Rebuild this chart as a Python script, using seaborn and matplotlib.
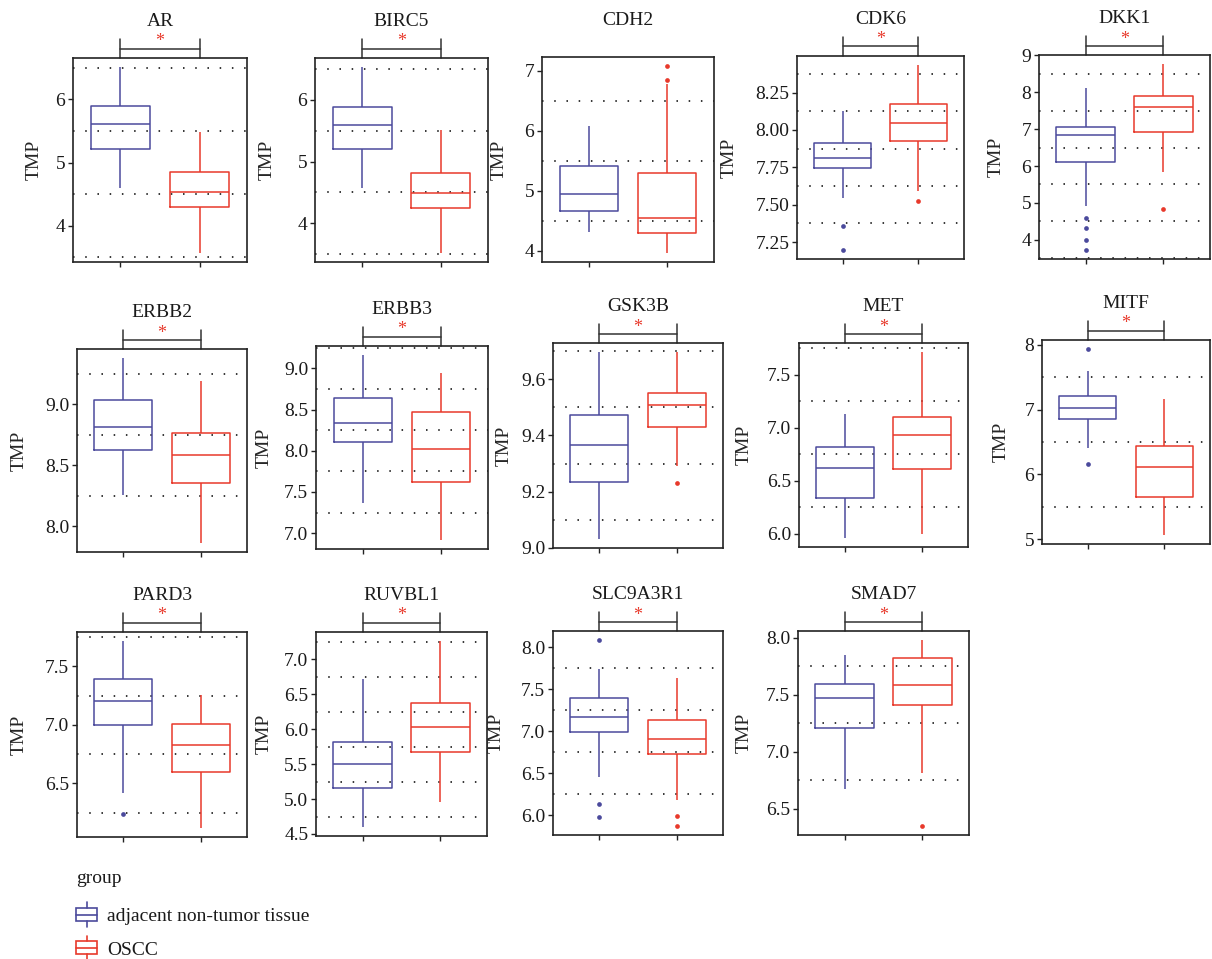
import numpy as np
import pandas as pd
import matplotlib
matplotlib.use('Agg')
import matplotlib.pyplot as plt
from matplotlib.legend_handler import HandlerBase
from matplotlib.patches import Patch, Rectangle
from matplotlib.lines import Line2D
from matplotlib.ticker import AutoMinorLocator
import seaborn as sns

# Gene panels and groups
genes = ['AR', 'BIRC5', 'CDH2', 'CDK6', 'DKK1',
         'ERBB2', 'ERBB3', 'GSK3B', 'MET', 'MITF',
         'PARD3', 'RUVBL1', 'SLC9A3R1', 'SMAD7']
groups = ['adjacent non-tumor tissue', 'OSCC']
significant = [True, True, False, True, True,
               True, True, True, True, True,
               True, True, True, True]

# box statistics (lower whisker, Q1, median, Q3, upper whisker, outliers)
adj_low = [4.60, 4.57, 4.31, 7.545, 4.92, 8.255, 7.37, 9.033, 5.963, 6.40, 6.42, 4.604, 6.451, 6.669]
adj_q1 = [5.22, 5.21, 4.67, 7.745, 6.10, 8.625, 8.103, 9.236, 6.334, 6.856, 7.00, 5.156, 6.986, 7.203]
adj_med = [5.61, 5.60, 4.95, 7.81, 6.855, 8.816, 8.337, 9.367, 6.622, 7.026, 7.205, 5.505, 7.176, 7.47]
adj_q3 = [5.90, 5.89, 5.41, 7.91, 7.05, 9.036, 8.645, 9.471, 6.816, 7.216, 7.39, 5.811, 7.394, 7.59]
adj_high = [6.51, 6.53, 6.08, 8.13, 8.13, 9.378, 9.16, 9.695, 7.125, 7.60, 7.712, 6.717, 7.739, 7.846]
adj_out = [[], [], [], [7.354, 7.198], [4.58, 4.31, 3.99, 3.73], [], [], [], [],
           [7.93, 6.155], [6.24], [], [8.083, 6.139, 5.976], []]

tum_low = [3.57, 3.52, 3.97, 7.589, 5.84, 7.863, 6.92, 9.292, 6.00, 5.067, 6.123, 4.958, 6.186, 6.81]
tum_q1 = [4.29, 4.25, 4.29, 7.923, 6.92, 8.35, 7.618, 9.428, 6.609, 5.644, 6.594, 5.679, 6.733, 7.407]
tum_med = [4.53, 4.49, 4.54, 8.044, 7.61, 8.586, 8.018, 9.507, 6.928, 6.119, 6.829, 6.028, 6.911, 7.581]
tum_q3 = [4.85, 4.82, 5.30, 8.176, 7.905, 8.764, 8.47, 9.549, 7.097, 6.433, 7.007, 6.382, 7.133, 7.817]
tum_high = [5.49, 5.51, 6.77, 8.433, 8.76, 9.19, 8.94, 9.695, 7.71, 7.165, 7.254, 7.259, 7.636, 7.977]
tum_out = [[], [], [7.07, 6.84], [7.523], [4.83], [], [], [9.232], [], [], [], [],
           [5.988, 5.877], [6.349]]

# y axis ticks per panel and number of decimals in the labels
yticks = [[4, 5, 6], [4, 5, 6], [4, 5, 6, 7], [7.25, 7.5, 7.75, 8.0, 8.25], [4, 5, 6, 7, 8, 9],
          [8.0, 8.5, 9.0], [7.0, 7.5, 8.0, 8.5, 9.0], [9.0, 9.2, 9.4, 9.6], [6.0, 6.5, 7.0, 7.5], [5, 6, 7, 8],
          [6.5, 7.0, 7.5], [4.5, 5.0, 5.5, 6.0, 6.5, 7.0], [6.0, 6.5, 7.0, 7.5, 8.0], [6.5, 7.0, 7.5, 8.0]]
ydecimals = [0, 0, 0, 2, 0, 1, 1, 1, 1, 0, 1, 1, 1, 1]

palette = {'adjacent non-tumor tissue': '#4B4A9C', 'OSCC': '#E8392B'}

# panel positions in pixels (left, top, right, bottom) and x centre of the "TMP" label
W, H = 1212, 959
panel_px = [(73, 58, 247, 262), (315, 58, 488, 262), (542, 57, 714, 262), (797, 56, 964, 259), (1039, 55, 1210, 259),
            (77, 349, 247, 552), (316, 346, 488, 549), (553, 343, 723, 548), (799, 343, 968, 547), (1042, 340, 1210, 544),
            (77, 632, 247, 837), (316, 632, 487, 836), (553, 631, 723, 835), (798, 631, 969, 835)]
label_x = [35, 268, 500, 730, 997, 20, 265, 505, 745, 1002, 20, 265, 497, 745]


def rebuild(lo, q1, med, q3, hi, out):
    # sample whose linear quartiles / whiskers give back exactly the read box
    below = sorted(o for o in out if o < q1)
    above = sorted(o for o in out if o > q3)
    L, Hh = len(below) + 1, len(above) + 1
    k = max(L, Hh) + 1
    return (below + [lo] + [q1] * (k - L + 1) + [med] * (2 * k - 1)
            + [q3] * (k - Hh + 1) + [hi] + above)


class BoxHandler(HandlerBase):
    def create_artists(self, legend, orig_handle, xdescent, ydescent, width, height, fontsize, trans):
        c = orig_handle.get_edgecolor()
        x0, y0 = -xdescent, -ydescent
        rect = Rectangle((x0, y0 + 0.1 * height), width, 0.8 * height, facecolor='white',
                         edgecolor=c, lw=1.2, transform=trans)
        med = Line2D([x0, x0 + width], [y0 + 0.5 * height] * 2, color=c, lw=1.2, transform=trans)
        w1 = Line2D([x0 + width / 2] * 2, [y0 - 0.25 * height, y0 + 0.1 * height], color=c, lw=1.2, transform=trans)
        w2 = Line2D([x0 + width / 2] * 2, [y0 + 0.9 * height, y0 + 1.25 * height], color=c, lw=1.2, transform=trans)
        return [rect, med, w1, w2]


sns.set_theme(style='ticks')
plt.rcParams['font.family'] = ['Liberation Serif', 'DejaVu Serif']
plt.rcParams['text.color'] = '#1a1a1a'

fig = plt.figure(figsize=(W / 100, H / 100), dpi=100)

for i, gene in enumerate(genes):
    l, t, r, b = panel_px[i]
    ax = fig.add_axes([l / W, 1 - b / H, (r - l) / W, (b - t) / H])

    vals_a = rebuild(adj_low[i], adj_q1[i], adj_med[i], adj_q3[i], adj_high[i], adj_out[i])
    vals_t = rebuild(tum_low[i], tum_q1[i], tum_med[i], tum_q3[i], tum_high[i], tum_out[i])
    df = pd.DataFrame({'group': [groups[0]] * len(vals_a) + [groups[1]] * len(vals_t),
                       'TMP': vals_a + vals_t})

    sns.boxplot(data=df, x='group', y='TMP', hue='group', order=groups, hue_order=groups,
                palette=palette, fill=False, width=0.75, linewidth=1.1, showcaps=False,
                flierprops=dict(marker='o', markersize=3.4, markeredgewidth=0),
                legend=False, ax=ax)
    # colour the outlier dots like their box
    for ln in ax.lines:
        xd = np.asarray(ln.get_xdata(), dtype=float)
        if ln.get_marker() == 'o' and len(xd) > 0:
            c = palette[groups[int(round(xd.mean()))]]
            ln.set_markerfacecolor(c)
            ln.set_markeredgecolor(c)

    ax.set_xlim(-0.6, 1.6)
    ax.set_xticks([0, 1])
    ax.set_xticklabels([])
    ax.set_xlabel('')
    ax.set_yticks(yticks[i])
    ax.set_yticklabels([f'{v:.{ydecimals[i]}f}' for v in yticks[i]])
    ax.yaxis.set_minor_locator(AutoMinorLocator(2))
    ax.grid(False)
    ax.grid(which='minor', axis='y', color='black', linestyle=(0, (1, 7)), linewidth=1.1)
    ax.tick_params(which='minor', length=0)
    ax.tick_params(which='major', length=3.5, width=1, color='#222222', labelsize=14,
                   labelcolor='#1a1a1a', pad=2)
    for sp in ax.spines.values():
        sp.set_linewidth(1.2)
        sp.set_color('#222222')

    ax.set_ylabel('TMP', fontsize=14)
    ax.yaxis.set_label_coords((label_x[i] + 8 - l) / (r - l), 0.5)
    ax.set_title(gene, fontsize=14, pad=23)

    if significant[i]:
        tr = ax.get_xaxis_transform()
        ph = b - t
        for xx in (0, 1):
            ax.plot([xx, xx], [1, 1 + 19 / ph], transform=tr, clip_on=False, color='#333333', lw=1.1)
        ax.plot([0, 1], [1 + 9.5 / ph] * 2, transform=tr, clip_on=False, color='#333333', lw=1.1)
        ax.text(0.5, 1 + 16 / ph, '*', transform=tr, ha='center', va='center',
                color='#E8392B', fontsize=13)

handles = [Patch(facecolor='white', edgecolor=palette[g]) for g in groups]
leg = fig.legend(handles, groups, loc='upper left', bbox_to_anchor=(76 / W, 1 - 870 / H),
                 frameon=False, title='group', fontsize=14, title_fontsize=14,
                 handlelength=1.1, handleheight=0.9, handletextpad=0.5, labelspacing=0.75,
                 borderpad=0, borderaxespad=0, alignment='left',
                 handler_map={Patch: BoxHandler()})
# a little more room between title and entries
leg._legend_box.sep = 14

fig.savefig('out.png', dpi=100)
